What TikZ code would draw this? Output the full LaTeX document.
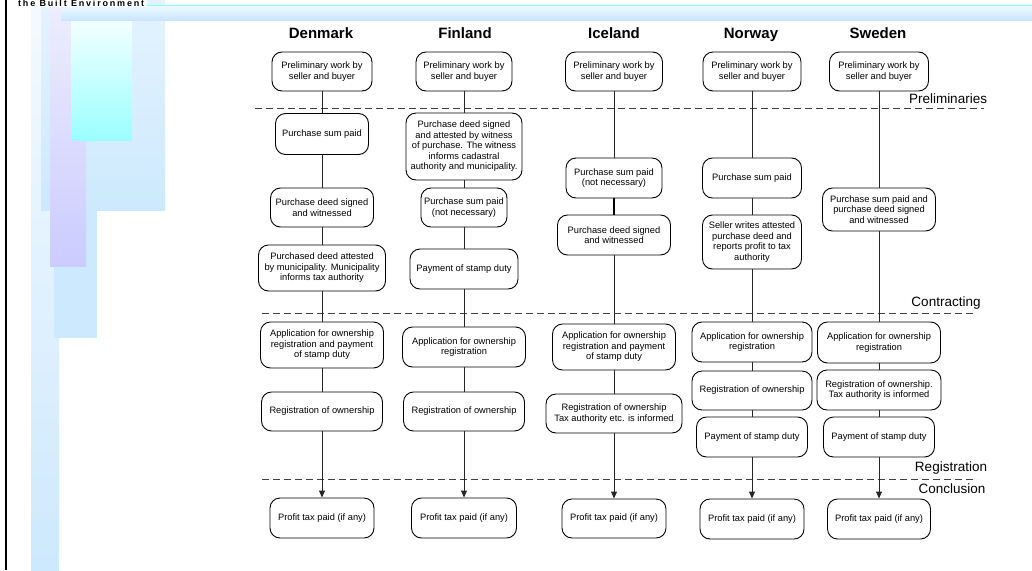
\documentclass[tikz,border=0pt]{standalone}
\usepackage{fontspec}
\setmainfont{Liberation Sans}
\newfontfamily\logofont[LetterSpace=20]{Liberation Sans}
\usetikzlibrary{arrows.meta}
\definecolor{barlight}{HTML}{F4FAFF}
\definecolor{barblue}{HTML}{CDE9FD}
\definecolor{barpale}{HTML}{E4F3FF}
\definecolor{lavtop}{HTML}{EEEEFE}
\definecolor{lavbot}{HTML}{CBCBFF}
\definecolor{cyantop}{HTML}{F4FFFF}
\definecolor{cyanbot}{HTML}{9AFFFF}
\definecolor{bandtop}{HTML}{F0FCFF}
\definecolor{bandbot}{HTML}{C9E6FF}
\definecolor{bandline}{HTML}{80FFFF}

\begin{document}
\begin{tikzpicture}[x=1pt,y=-1pt,
	stage/.style={draw,line width=0.9pt,fill=white,rounded corners=10pt,align=center,inner sep=1pt,font=\fontsize{9.3}{10.5}\selectfont},
	wh/.style 2 args={minimum width=#1pt,minimum height=#2pt},
	country/.style={anchor=base,font=\fontsize{15}{15}\selectfont\bfseries},
	phase/.style={anchor=base,font=\fontsize{13.5}{13.5}\selectfont},
	link/.style={draw=black!85,line width=0.9pt},
	last/.style={link,-{Triangle[length=7pt,width=6pt]}},
	sep/.style={black!75,line width=0.9pt,dash pattern=on 7pt off 4pt}]
\useasboundingbox (0,0) rectangle (1032,570);

% side bars and header band
\fill[top color=barlight,bottom color=barblue] (31,0) rectangle (59,570);
\fill[barblue] (54,0) rectangle (97,338);
\fill[top color=barpale,bottom color=barblue] (41,0) rectangle (165,210);
\fill[top color=lavtop,bottom color=lavbot] (50,0) rectangle (86,266);
\fill[top color=cyantop,bottom color=cyanbot] (71,20) rectangle (132,140);
\fill[top color=bandtop,bottom color=bandbot] (61,5) rectangle (1032,20);
\draw[bandline,line width=1pt] (147,5) -- (1032,5);
\fill[white] (14,0) rectangle (147,6.5);
\node[anchor=base west,inner sep=0pt,font=\logofont\fontsize{9}{9}\selectfont\bfseries] (logo) at (18,6) {the Built Environment};
\draw[black,line width=1.6pt] (6,0) -- (6,570);

\draw[sep] (255,108) -- (984,108);
\draw[sep] (262,313) -- (977,313);
\draw[sep] (262,479) -- (977,479);
\node[phase] (P1) at (948,103) {Preliminaries};
\node[phase] (P2) at (946,306) {Contracting};
\node[phase] (P3) at (951,471) {Registration};
\node[phase] (P4) at (952,493) {Conclusion};

\node[country] (tD) at (321,38) {Denmark};
\node[country] (tF) at (465,38) {Finland};
\node[country] (tI) at (614,38) {Iceland};
\node[country] (tN) at (751,38) {Norway};
\node[country] (tS) at (878,38) {Sweden};

% Denmark
\node[stage,wh={100}{39}] (dPre) at (322,71.5) {Preliminary work by\\seller and buyer};
\node[stage,wh={93}{41}] (dSum) at (322,134) {Purchase sum paid};
\node[stage,wh={103}{39}] (dDeed) at (322,207.5) {Purchase deed signed\\and witnessed};
\node[stage,wh={127}{46}] (dAtt) at (322,268) {Purchased deed attested\\by municipality. Municipality\\informs tax authority};
\node[stage,wh={123}{46}] (dApp) at (322,345) {Application for ownership\\registration and payment\\of stamp duty};
\node[stage,wh={121}{39}] (dReg) at (322,411.5) {Registration of ownership};
\node[stage,wh={104}{40}] (dTax) at (322,518) {Profit tax paid (if any)};

% Finland
\node[stage,wh={96}{39}] (fPre) at (464,71.5) {Preliminary work by\\seller and buyer};
\node[stage,wh={116}{67}] (fDeed) at (464,146.5) {Purchase deed signed\\and attested by witness\\of purchase. The witness\\informs cadastral\\authority and municipality.};
\node[stage,wh={86}{39}] (fSum) at (464,207.5) {Purchase sum paid\\(not necessary)};
\node[stage,wh={108}{40}] (fDuty) at (464,269) {Payment of stamp duty};
\node[stage,wh={123}{40}] (fApp) at (464,347) {Application for ownership\\registration};
\node[stage,wh={121}{39}] (fReg) at (464,411.5) {Registration of ownership};
\node[stage,wh={105}{40}] (fTax) at (464,518) {Profit tax paid (if any)};

% Iceland
\node[stage,wh={97}{39}] (iPre) at (614,71.5) {Preliminary work by\\seller and buyer};
\node[stage,wh={96}{40}] (iSum) at (614,178) {Purchase sum paid\\(not necessary)};
\node[stage,wh={113}{40}] (iDeed) at (614,235) {Purchase deed signed\\and witnessed};
\node[stage,wh={123}{46}] (iApp) at (614,347) {Application for ownership\\registration and payment\\of stamp duty};
\node[stage,wh={136}{39}] (iReg) at (614,413.5) {Registration of ownership\\Tax authority etc. is informed};
\node[stage,wh={104}{39}] (iTax) at (614,518.5) {Profit tax paid (if any)};

% Norway
\node[stage,wh={98}{39}] (nPre) at (752,71.5) {Preliminary work by\\seller and buyer};
\node[stage,wh={99}{40}] (nSum) at (752,178) {Purchase sum paid};
\node[stage,wh={99}{54}] (nSell) at (752,242) {Seller writes attested\\purchase deed and\\reports profit to tax\\authority};
\node[stage,wh={120}{40}] (nApp) at (752,342) {Application for ownership\\registration};
\node[stage,wh={120}{39}] (nReg) at (752,390.5) {Registration of ownership};
\node[stage,wh={111}{40}] (nDuty) at (752,437) {Payment of stamp duty};
\node[stage,wh={104}{40}] (nTax) at (752,519) {Profit tax paid (if any)};

% Sweden
\node[stage,wh={99}{39}] (sPre) at (879,71.5) {Preliminary work by\\seller and buyer};
\node[stage,wh={113}{43}] (sBoth) at (879,209.5) {Purchase sum paid and\\purchase deed signed\\and witnessed};
\node[stage,wh={123}{41}] (sApp) at (879,342.5) {Application for ownership\\registration};
\node[stage,wh={124}{40}] (sReg) at (879,390) {Registration of ownership.\\Tax authority is informed};
\node[stage,wh={111}{40}] (sDuty) at (879,437) {Payment of stamp duty};
\node[stage,wh={103}{40}] (sTax) at (879,519) {Profit tax paid (if any)};

\draw[link] (dPre) -- (dSum) -- (dDeed) -- (dAtt) -- (dApp) -- (dReg);
\draw[last] (dReg) -- (dTax);
\draw[link] (fPre) -- (fDeed) -- (fSum) -- (fDuty) -- (fApp) -- (fReg);
\draw[last] (fReg) -- (fTax);
\draw[link] (iPre) -- (iSum);
\draw[black,line width=1.4pt] (iSum) -- (iDeed);
\draw[link] (iDeed) -- (iApp) -- (iReg);
\draw[last] (iReg) -- (iTax);
\draw[link] (nPre) -- (nSum) -- (nSell) -- (nApp) -- (nReg) -- (nDuty);
\draw[last] (nDuty) -- (nTax);
\draw[link] (sPre) -- (sBoth) -- (sApp) -- (sReg) -- (sDuty);
\draw[last] (sDuty) -- (sTax);

\end{tikzpicture}
\end{document}
